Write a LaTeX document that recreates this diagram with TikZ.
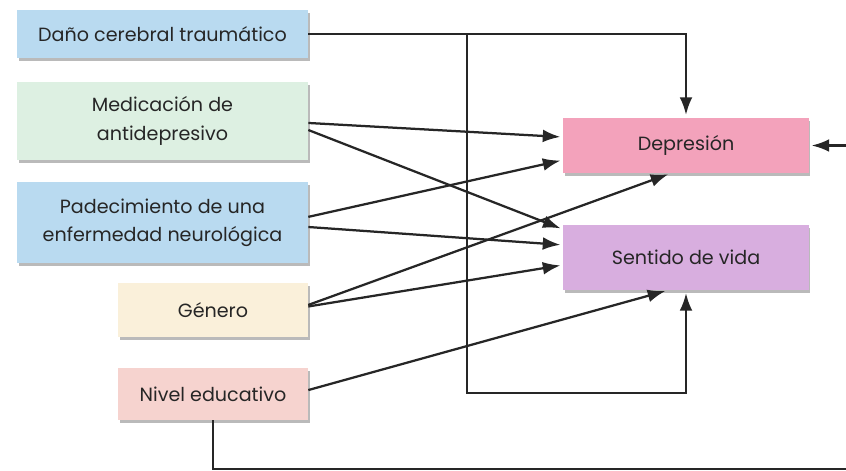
\documentclass[tikz,border=0pt]{standalone}
\usepackage{fontspec}
\setmainfont{Poppins}
\usepackage{xcolor}
\usetikzlibrary{arrows.meta, positioning, shadows}

\definecolor{boxblue}{HTML}{B9DAF0}
\definecolor{boxgreen}{HTML}{DDF0E2}
\definecolor{boxcream}{HTML}{FAF0DA}
\definecolor{boxrose}{HTML}{F6D3CF}
\definecolor{boxpink}{HTML}{F3A2BB}
\definecolor{boxlilac}{HTML}{D8AEDF}

\begin{document}
\begin{tikzpicture}[
    x=0.025cm, y=-0.025cm,
    box/.style={rectangle, fill=#1, inner sep=0pt, align=center, text=black!85, font=\fontsize{13.6}{20}\selectfont,
        drop shadow={shadow xshift=1.3pt, shadow yshift=-2pt, fill=black!45, opacity=0.6}},
    arrow/.style={-{Latex[length=4.4mm, width=3.2mm]}, line width=1.6pt, black!85, shorten >=2pt},
]

% Frame
\fill[white] (0,0) rectangle (846,471);
\useasboundingbox (0,0) rectangle (846,471);
\clip (0,0) rectangle (846,471);

% Predictors
\node[box=boxblue, minimum width=7.275cm, minimum height=1.2cm] (dano) at (162.5,34) {Daño cerebral traumático};
\node[box=boxgreen, minimum width=7.275cm, minimum height=1.95cm] (medic) at (162.5,121) {Medicación de\\antidepresivo};
\node[box=boxblue, minimum width=7.275cm, minimum height=2.025cm] (padec) at (162.5,222.5) {Padecimiento de una\\enfermedad neurológica};
\node[box=boxcream, minimum width=4.75cm, minimum height=1.35cm] (genero) at (213,310) {Género};
\node[box=boxrose, minimum width=4.75cm, minimum height=1.3cm] (nivel) at (213,394) {Nivel educativo};

% Outcomes
\node[box=boxpink, minimum width=6.125cm, minimum height=1.375cm] (depr) at (686,145.5) {Depresión};
\node[box=boxlilac, minimum width=6.125cm, minimum height=1.625cm] (sentido) at (686,257.5) {Sentido de vida};

% Helper points
\coordinate (loopdn) at (467,393);
\coordinate (loopR) at (870,469);

% Arrows
\draw[arrow] (dano.east) -| (depr.north);
\draw[arrow] (loopdn |- dano.east) -- (loopdn) -| (sentido.south);
\draw[arrow] ([yshift=-1.4pt]medic.east) -- ([yshift=6pt]depr.west);
\draw[arrow] ([yshift=-6.4pt]medic.east) -- ([yshift=20pt]sentido.west);
\draw[arrow] ([yshift=4pt]padec.east) -- ([yshift=-10.3pt]depr.west);
\draw[arrow] ([yshift=-3.2pt]padec.east) -- ([yshift=8.9pt]sentido.west);
\draw[arrow] ([yshift=3.6pt]genero.east) -- ([xshift=-10.7pt]depr.south);
\draw[arrow] ([yshift=2.5pt]genero.east) -- ([yshift=-5.3pt]sentido.west);
\draw[arrow] ([yshift=2.8pt]nivel.east) -- ([xshift=-12.8pt]sentido.south);
\draw[arrow] (nivel.south) |- (loopR) |- (depr.east);

\end{tikzpicture}
\end{document}
